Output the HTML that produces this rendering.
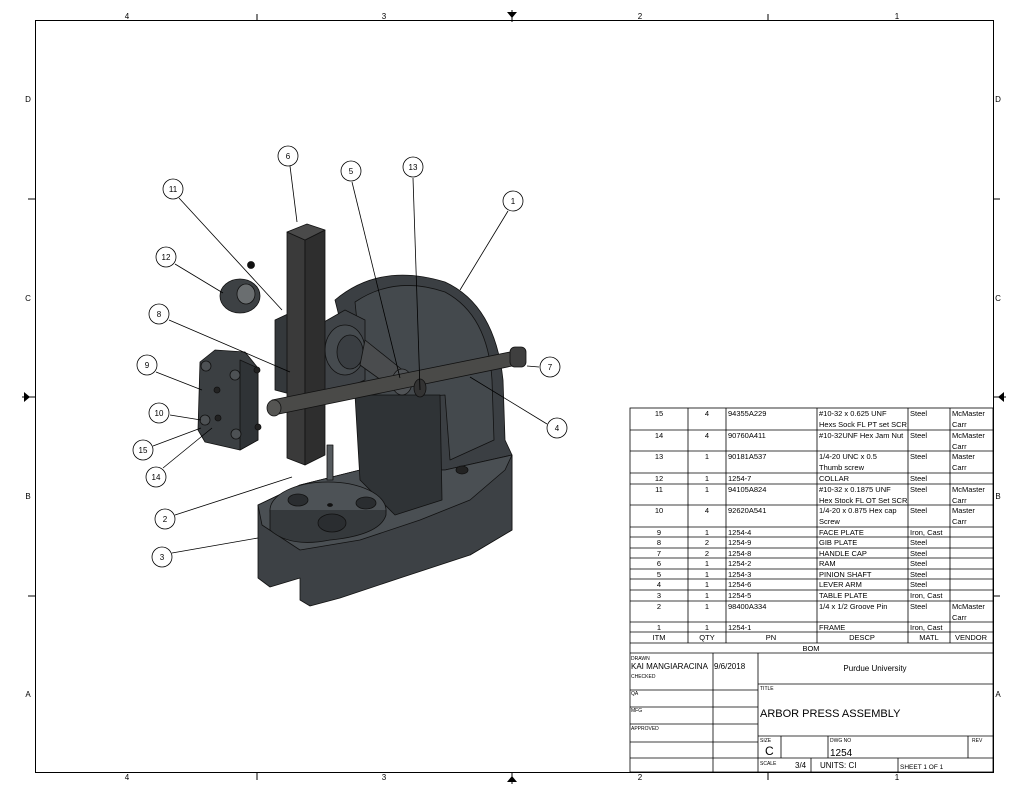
<!DOCTYPE html>
<html><head><meta charset="utf-8"><style>
body{margin:0;background:#fff}
svg text{font-family:"Liberation Sans",sans-serif}
</style></head><body>
<svg width="1024" height="794" viewBox="0 0 1024 794" xmlns="http://www.w3.org/2000/svg">
<rect width="1024" height="794" fill="#fff"/>
<!-- borders -->
<rect x="35.5" y="20.5" width="958" height="752" fill="none" stroke="#000" stroke-width="1"/>
<g stroke="#000" stroke-width="1">
<line x1="257" y1="14" x2="257" y2="20"/><line x1="768" y1="14" x2="768" y2="20"/>
<line x1="257" y1="772" x2="257" y2="780"/><line x1="768" y1="772" x2="768" y2="780"/>
<line x1="28" y1="199" x2="35" y2="199"/><line x1="28" y1="596" x2="35" y2="596"/>
<line x1="993" y1="199" x2="1000" y2="199"/><line x1="993" y1="596" x2="1000" y2="596"/>
<line x1="512" y1="10" x2="512" y2="22"/><line x1="512" y1="772" x2="512" y2="784"/>
<line x1="22" y1="397" x2="35" y2="397"/><line x1="993" y1="397" x2="1006" y2="397"/>
</g>
<g fill="#000"><path d="M507,12 L517,12 L512,18Z"/><path d="M507,782 L517,782 L512,776Z"/>
<path d="M24,392 L24,402 L30,397Z"/><path d="M1004,392 L1004,402 L998,397Z"/></g>
<g font-size="8" text-anchor="middle">
<text x="127" y="19">4</text><text x="384" y="19">3</text><text x="640" y="19">2</text><text x="897" y="19">1</text>
<text x="127" y="780">4</text><text x="384" y="780">3</text><text x="640" y="780">2</text><text x="897" y="780">1</text>
<text x="28" y="102">D</text><text x="28" y="301">C</text><text x="28" y="499">B</text><text x="28" y="697">A</text>
<text x="998" y="102">D</text><text x="998" y="301">C</text><text x="998" y="499">B</text><text x="998" y="697">A</text>
</g>

<!-- ===== drawing ===== -->
<g stroke="#111" stroke-width="0.8" stroke-linejoin="round">
<!-- frame arch back -->
<path d="M335,300 Q380,262 445,282 Q495,305 503,380 L505,440 L512,455 L512,530 L470,555 L470,470 L440,480 L440,400 L360,400 Z" fill="#3b3f43"/>
<path d="M355,302 Q395,275 445,292 Q488,315 492,380 L494,440 L450,460 L445,395 L365,400 Z" fill="#44494d"/>
<!-- base -->
<path d="M258,505 L300,485 L360,470 L445,470 L512,455 L512,530 L470,555 L400,578 L340,598 L310,606 L300,600 L300,578 L270,587 L258,578 Z" fill="#3d4145"/>
<path d="M258,505 L300,485 L360,470 L445,470 L512,455 L505,470 L470,500 L420,520 L360,540 L300,550 L262,525 Z" fill="#4a4f53"/>
<!-- column throat -->
<path d="M355,395 L440,395 L442,500 L395,515 L360,480 Z" fill="#2f3336"/>
<!-- table plate -->
<ellipse cx="328" cy="510" rx="58" ry="28" fill="#4d5256"/>
<path d="M270,510 L270,530 Q290,548 330,540 Q380,535 386,515 L386,510" fill="#35393c"/>
<ellipse cx="332" cy="523" rx="14" ry="9" fill="#2a2d30"/>
<ellipse cx="298" cy="500" rx="10" ry="6" fill="#2a2d30"/>
<ellipse cx="366" cy="503" rx="10" ry="6" fill="#2a2d30"/>
<ellipse cx="330" cy="505" rx="2.5" ry="1.5" fill="#111"/>
<ellipse cx="462" cy="470" rx="6" ry="4" fill="#222"/>
<!-- groove pin -->
<rect x="327" y="445" width="6" height="35" fill="#555a5e"/>
<!-- housing block -->
<path d="M310,330 L345,310 L365,320 L365,380 L330,395 L310,385 Z" fill="#3f4347"/>
<ellipse cx="345" cy="350" rx="20" ry="25" fill="#464b4f"/>
<ellipse cx="350" cy="352" rx="13" ry="17" fill="#3a3e42"/>
<!-- pinion shaft cone -->
<path d="M365,340 L405,372 L395,390 L360,365 Z" fill="#4a4c4e"/>
<ellipse cx="402" cy="382" rx="10" ry="13" fill="#505356"/>
<!-- face plate on block -->
<path d="M275,320 L290,313 L320,318 L320,395 L305,398 L275,390 Z" fill="#34383b"/>
<!-- ram -->
<path d="M287,232 L305,240 L305,465 L287,458 Z" fill="#3a3a3a"/>
<path d="M305,240 L325,230 L325,455 L305,465 Z" fill="#2e2e2e"/>
<path d="M287,232 L305,240 L325,230 L307,224 Z" fill="#4a4a4a"/>
<!-- lever arm -->
<path d="M272,400 L520,350 L522,364 L274,415 Z" fill="#4a4a48"/>
<ellipse cx="274" cy="408" rx="7" ry="8" fill="#555553"/>
<rect x="510" y="347" width="16" height="20" rx="5" fill="#3f3f3f"/>
<!-- thumb screw 13 -->
<ellipse cx="420" cy="388" rx="6" ry="9" fill="#333"/>
<!-- collar -->
<ellipse cx="240" cy="296" rx="20" ry="17" fill="#3d4144"/>
<ellipse cx="246" cy="294" rx="9" ry="10" fill="#6a6e70"/>
<circle cx="251" cy="265" r="3.5" fill="#111"/>
<!-- face plate 9 -->
<path d="M200,362 L215,350 L245,352 L258,368 L258,440 L240,450 L205,442 L198,430 Z" fill="#3b3f42"/>
<path d="M240,360 L258,368 L258,440 L240,450 Z" fill="#2f3336"/>
<circle cx="206" cy="366" r="5" fill="#4d5154"/><circle cx="235" cy="375" r="5" fill="#4d5154"/>
<circle cx="205" cy="420" r="5" fill="#4d5154"/><circle cx="236" cy="434" r="5" fill="#4d5154"/>
<circle cx="217" cy="390" r="3" fill="#222"/><circle cx="218" cy="418" r="3" fill="#222"/>
<circle cx="257" cy="370" r="3" fill="#222"/><circle cx="258" cy="427" r="3" fill="#222"/>
</g>
<!-- leaders -->
<g stroke="#000" stroke-width="0.8" fill="none">
<line x1="290" y1="166" x2="297" y2="222"/>
<line x1="352" y1="182" x2="400" y2="378"/>
<line x1="413" y1="178" x2="420" y2="390"/>
<line x1="508" y1="211" x2="460" y2="290"/>
<line x1="179" y1="198" x2="282" y2="310"/>
<line x1="175" y1="264" x2="223" y2="293"/>
<line x1="169" y1="320" x2="290" y2="372"/>
<line x1="156" y1="372" x2="202" y2="390"/>
<line x1="539" y1="367" x2="527" y2="366"/>
<line x1="547" y1="424" x2="470" y2="377"/>
<line x1="170" y1="415" x2="201" y2="420"/>
<line x1="153" y1="446" x2="201" y2="428"/>
<line x1="163" y1="468" x2="212" y2="428"/>
<line x1="175" y1="515" x2="292" y2="477"/>
<line x1="172" y1="553" x2="258" y2="538"/>
</g>
<g fill="#fff" stroke="#000" stroke-width="0.8">
<circle cx="288" cy="156" r="10"/><circle cx="351" cy="171" r="10"/><circle cx="413" cy="167" r="10"/>
<circle cx="513" cy="201" r="10"/><circle cx="173" cy="189" r="10"/><circle cx="166" cy="257" r="10"/>
<circle cx="159" cy="314" r="10"/><circle cx="147" cy="365" r="10"/><circle cx="159" cy="413" r="10"/>
<circle cx="143" cy="450" r="10"/><circle cx="156" cy="477" r="10"/><circle cx="165" cy="519" r="10"/>
<circle cx="162" cy="557" r="10"/><circle cx="550" cy="367" r="10"/><circle cx="557" cy="428" r="10"/>
</g>
<g font-size="8" text-anchor="middle">
<text x="288" y="159">6</text><text x="351" y="174">5</text><text x="413" y="170">13</text>
<text x="513" y="204">1</text><text x="173" y="192">11</text><text x="166" y="260">12</text>
<text x="159" y="317">8</text><text x="147" y="368">9</text><text x="159" y="416">10</text>
<text x="143" y="453">15</text><text x="156" y="480">14</text><text x="165" y="522">2</text>
<text x="162" y="560">3</text><text x="550" y="370">7</text><text x="557" y="431">4</text>
</g>

<!-- ===== BOM ===== -->
<rect x="630" y="408" width="363" height="364" fill="#fff"/>
<g stroke="#000" stroke-width="0.8" fill="none">
<rect x="630" y="408" width="363" height="364"/>
<path d="M630,430H993M630,451H993M630,473H993M630,484H993M630,505H993M630,527H993M630,537H993M630,548H993M630,558H993M630,569H993M630,579H993M630,590H993M630,601H993M630,622H993M630,632H993M630,643H993M630,653H993"/>
<path d="M688,408V643M726,408V643M817,408V643M908,408V643M950,408V643"/>
<!-- title block -->
<path d="M713,653V772M758,653V772M758,684H993M758,736H993M758,758H993M630,690H758M630,707H758M630,724H758M630,742H758M630,758H758"/>
<path d="M781,736V758M828,736V758M968,736V758M811,758V772M898,758V772"/>
</g>
<g font-size="7.5">
<g text-anchor="middle">
<text x="659" y="416">15</text><text x="707" y="416">4</text>
<text x="659" y="438">14</text><text x="707" y="438">4</text>
<text x="659" y="459">13</text><text x="707" y="459">1</text>
<text x="659" y="481">12</text><text x="707" y="481">1</text>
<text x="659" y="492">11</text><text x="707" y="492">1</text>
<text x="659" y="513">10</text><text x="707" y="513">4</text>
<text x="659" y="535">9</text><text x="707" y="535">1</text>
<text x="659" y="545">8</text><text x="707" y="545">2</text>
<text x="659" y="556">7</text><text x="707" y="556">2</text>
<text x="659" y="566">6</text><text x="707" y="566">1</text>
<text x="659" y="577">5</text><text x="707" y="577">1</text>
<text x="659" y="587">4</text><text x="707" y="587">1</text>
<text x="659" y="598">3</text><text x="707" y="598">1</text>
<text x="659" y="609">2</text><text x="707" y="609">1</text>
<text x="659" y="630">1</text><text x="707" y="630">1</text>
<text x="659" y="640">ITM</text><text x="707" y="640">QTY</text><text x="771" y="640">PN</text>
<text x="862" y="640">DESCP</text><text x="929" y="640">MATL</text><text x="971" y="640">VENDOR</text>
<text x="811" y="651">BOM</text>
</g>
<text x="728" y="416">94355A229</text><text x="819" y="416">#10-32 x 0.625 UNF</text><text x="819" y="427">Hexs Sock FL PT set SCR</text><text x="910" y="416">Steel</text><text x="952" y="416">McMaster</text><text x="952" y="427">Carr</text>
<text x="728" y="438">90760A411</text><text x="819" y="438">#10-32UNF Hex Jam Nut</text><text x="910" y="438">Steel</text><text x="952" y="438">McMaster</text><text x="952" y="449">Carr</text>
<text x="728" y="459">90181A537</text><text x="819" y="459">1/4-20 UNC x 0.5</text><text x="819" y="470">Thumb screw</text><text x="910" y="459">Steel</text><text x="952" y="459">Master</text><text x="952" y="470">Carr</text>
<text x="728" y="481">1254-7</text><text x="819" y="481">COLLAR</text><text x="910" y="481">Steel</text>
<text x="728" y="492">94105A824</text><text x="819" y="492">#10-32 x 0.1875 UNF</text><text x="819" y="503">Hex Stock FL OT Set SCR</text><text x="910" y="492">Steel</text><text x="952" y="492">McMaster</text><text x="952" y="503">Carr</text>
<text x="728" y="513">92620A541</text><text x="819" y="513">1/4-20 x 0.875 Hex cap</text><text x="819" y="524">Screw</text><text x="910" y="513">Steel</text><text x="952" y="513">Master</text><text x="952" y="524">Carr</text>
<text x="728" y="535">1254-4</text><text x="819" y="535">FACE PLATE</text><text x="910" y="535">Iron, Cast</text>
<text x="728" y="545">1254-9</text><text x="819" y="545">GIB PLATE</text><text x="910" y="545">Steel</text>
<text x="728" y="556">1254-8</text><text x="819" y="556">HANDLE CAP</text><text x="910" y="556">Steel</text>
<text x="728" y="566">1254-2</text><text x="819" y="566">RAM</text><text x="910" y="566">Steel</text>
<text x="728" y="577">1254-3</text><text x="819" y="577">PINION SHAFT</text><text x="910" y="577">Steel</text>
<text x="728" y="587">1254-6</text><text x="819" y="587">LEVER ARM</text><text x="910" y="587">Steel</text>
<text x="728" y="598">1254-5</text><text x="819" y="598">TABLE PLATE</text><text x="910" y="598">Iron, Cast</text>
<text x="728" y="609">98400A334</text><text x="819" y="609">1/4 x 1/2 Groove Pin</text><text x="910" y="609">Steel</text><text x="952" y="609">McMaster</text><text x="952" y="620">Carr</text>
<text x="728" y="630">1254-1</text><text x="819" y="630">FRAME</text><text x="910" y="630">Iron, Cast</text>
</g>
<g font-size="5">
<text x="631" y="660">DRAWN</text><text x="631" y="678">CHECKED</text><text x="631" y="695">QA</text>
<text x="631" y="712">MFG</text><text x="631" y="730">APPROVED</text><text x="760" y="690">TITLE</text>
<text x="760" y="742">SIZE</text><text x="830" y="742">DWG NO</text><text x="972" y="742">REV</text>
<text x="760" y="765">SCALE</text>
</g>
<g font-size="8">
<text x="631" y="669">KAI MANGIARACINA</text><text x="714" y="669">9/6/2018</text>
<text x="875" y="671" text-anchor="middle">Purdue University</text>
<text x="795" y="768">3/4</text><text x="820" y="768">UNITS: CI</text>
<text x="900" y="769" font-size="6.5">SHEET 1  OF 1</text>
</g>
<text x="760" y="717" font-size="11">ARBOR PRESS ASSEMBLY</text>
<text x="765" y="755" font-size="12">C</text>
<text x="830" y="756" font-size="10">1254</text>
</svg>
</body></html>
